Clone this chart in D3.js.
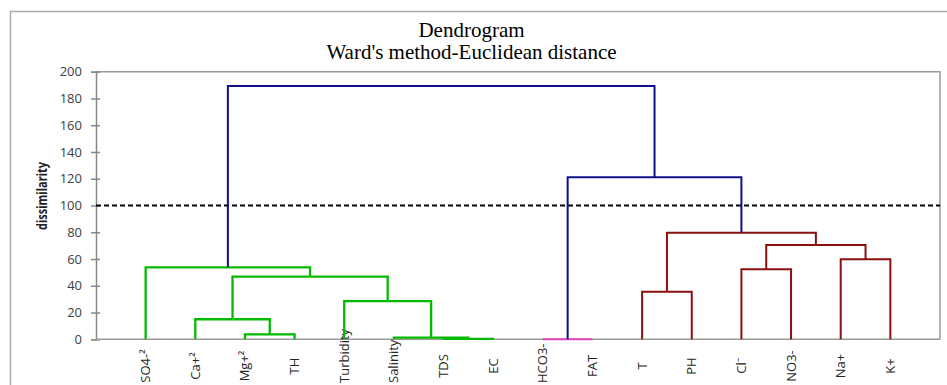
<!DOCTYPE html>
<html>
<head>
<meta charset="utf-8">
<script src="https://cdn.jsdelivr.net/npm/d3@7"></script>
<style>
  body { margin: 0; background: #fff; }
  .tick text { font-family: 'Open Sans', sans-serif; font-size: 13px; fill: #404040; }
  .title { font-family: 'Liberation Serif', 'Times New Roman', serif; font-size: 21px; fill: #000; }
</style>
</head>
<body>
<svg id="chart"></svg>
<script>
// leaves in display order
const leaves = ['SO4-²', 'Ca+²', 'Mg+²', 'TH', 'Turbidity', 'Salinity', 'TDS', 'EC',
  'HCO3-', 'FAT', 'T', 'PH', 'Cl⁻', 'NO3-', 'Na+', 'K+'];

// merges: [child a, child b, dissimilarity] ; new node id = 16 + row index
const mergeA = [8, 6, 5, 2, 1, 4, 10, 20, 12, 0, 14, 24, 22, 16, 25];
const mergeB = [9, 7, 17, 3, 19, 18, 11, 21, 13, 23, 15, 26, 27, 28, 29];
const mergeHeight = [0, 0.3, 1.2, 3.7, 15.0, 28.6, 35.6, 46.8, 52.3, 53.8, 59.8, 70.5, 79.7, 121.1, 189.3];
const mergeGroup = ['pink', 'green', 'green', 'green', 'green', 'green', 'red', 'green', 'red', 'green',
  'red', 'red', 'red', 'blue', 'blue'];

const yTicks = [0, 20, 40, 60, 80, 100, 120, 140, 160, 180, 200];
const cutLevel = 100;

const width = 947;
const height = 385;
const margin = { top: 71.7, right: 7, bottom: 45.7, left: 96 };

const colors = { green: '#00bb00', red: '#8c0f0f', blue: '#10108c', pink: '#e040c0' };

const svg = d3.select('#chart')
  .attr('width', width)
  .attr('height', height);

// outer chart frame
svg.append('rect')
  .attr('x', 10.5)
  .attr('y', 11.5)
  .attr('width', 950)
  .attr('height', 400)
  .attr('fill', 'none')
  .attr('stroke', '#aaa')
  .attr('stroke-width', 1.5);

const x = d3.scalePoint()
  .domain(leaves)
  .range([margin.left, width - margin.right])
  .padding(1);

const y = d3.scaleLinear()
  .domain([0, 200])
  .range([height - margin.bottom, margin.top]);

// plot frame (top + right)
svg.append('path')
  .attr('d', `M${margin.left},${margin.top}H${width - margin.right}V${height - margin.bottom}`)
  .attr('fill', 'none')
  .attr('stroke', '#999')
  .attr('stroke-width', 1.5);

// y axis
const yAxis = svg.append('g')
  .attr('transform', `translate(${margin.left},0)`)
  .call(d3.axisLeft(y).tickValues(yTicks).tickSize(5).tickPadding(9));
yAxis.select('.domain').attr('stroke', '#888').attr('stroke-width', 1.5);
yAxis.selectAll('.tick line').attr('stroke', '#888').attr('stroke-width', 1.5).attr('x2', 4).attr('x1', -5);

// x axis baseline
svg.append('line')
  .attr('x1', margin.left)
  .attr('x2', width - margin.right)
  .attr('y1', y(0))
  .attr('y2', y(0))
  .attr('stroke', '#999')
  .attr('stroke-width', 1.5);

// leaf labels: centred under the leaf, pushed up when they would run off the bottom
const labelCentre = 366;
const labels = svg.append('g')
  .selectAll('text')
  .data(leaves)
  .enter()
  .append('text')
  .text(d => d)
  .attr('text-anchor', 'middle')
  .style('font-family', "'Open Sans', sans-serif")
  .style('font-size', '13px')
  .style('fill', '#262626');

labels.attr('transform', function (d) {
  const len = this.getComputedTextLength();
  const cy = Math.min(labelCentre, height - 2 - len / 2);
  return `translate(${x(d) + 4.5},${cy}) rotate(-90)`;
});

// work out node positions
const nodeX = leaves.map(d => x(d));
const nodeH = leaves.map(() => 0);
const links = [];
mergeA.forEach((a, i) => {
  const b = mergeB[i];
  const h = mergeHeight[i];
  links.push({ a: nodeX[a], ha: nodeH[a], b: nodeX[b], hb: nodeH[b], h, group: mergeGroup[i] });
  nodeX.push((nodeX[a] + nodeX[b]) / 2);
  nodeH.push(h);
});

// cut line
svg.append('line')
  .attr('x1', margin.left)
  .attr('x2', width - margin.right)
  .attr('y1', y(cutLevel))
  .attr('y2', y(cutLevel))
  .attr('stroke', '#000')
  .attr('stroke-width', 1.8)
  .attr('stroke-dasharray', '5,3');

svg.append('g')
  .selectAll('path')
  .data(links)
  .enter()
  .append('path')
  .attr('d', d => `M${d.a},${y(d.ha)}V${y(d.h)}H${d.b}V${y(d.hb)}`)
  .attr('fill', 'none')
  .attr('stroke', d => colors[d.group])
  .attr('stroke-width', d => d.group === 'green' ? 2.3 : 2);

// y label
svg.append('text')
  .text('dissimilarity')
  .attr('transform', 'translate(47,196) rotate(-90)')
  .attr('text-anchor', 'middle')
  .attr('textLength', 68)
  .attr('lengthAdjust', 'spacingAndGlyphs')
  .style('font-family', "'Open Sans', sans-serif")
  .style('font-weight', 'bold')
  .style('font-size', '14px')
  .style('fill', '#222');

// title
const title = svg.append('g');
title.append('text')
  .attr('class', 'title')
  .attr('x', 471.5)
  .attr('y', 36.5)
  .attr('text-anchor', 'middle')
  .text('Dendrogram');
title.append('text')
  .attr('class', 'title')
  .attr('x', 471.5)
  .attr('y', 59.3)
  .attr('text-anchor', 'middle')
  .text("Ward's method-Euclidean distance");
</script>
</body>
</html>
